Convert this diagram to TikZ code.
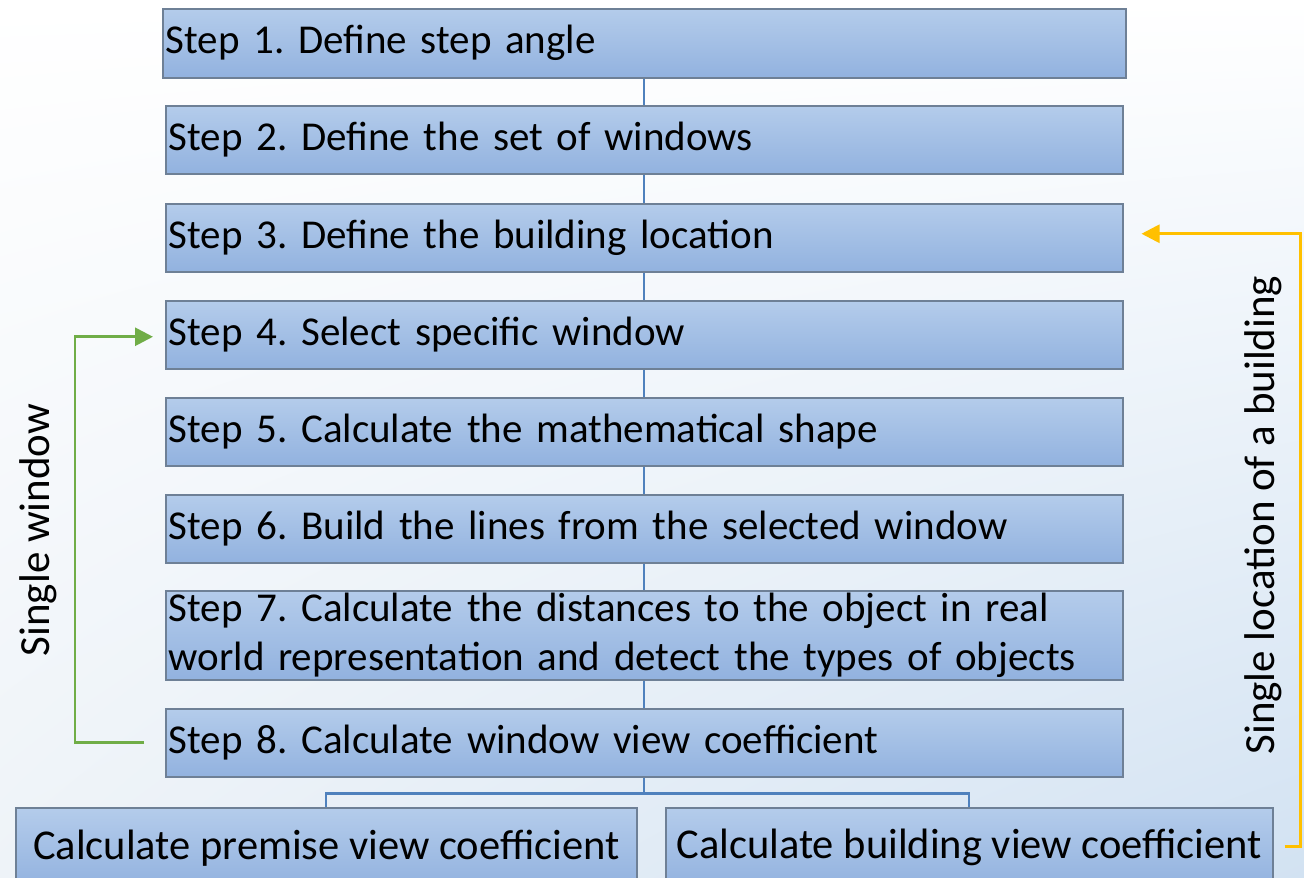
\documentclass[tikz,border=0pt]{standalone}
\usepackage{fontspec}
\setmainfont{Carlito}
\frenchspacing
\usetikzlibrary{arrows.meta,shadings}
\definecolor{boxtop}{HTML}{B4CCEB}
\definecolor{boxbot}{HTML}{92B2DF}
\definecolor{boxedge}{HTML}{6E8096}
\definecolor{conncol}{HTML}{4F81BD}
\definecolor{greencol}{HTML}{70AD47}
\definecolor{orangecol}{HTML}{FFC000}
\definecolor{bgbr}{HTML}{D2E2F2}
\definecolor{bgbl}{HTML}{EEF3F8}
\tikzset{
  stepbox/.style={rectangle, draw=boxedge, line width=1.5pt, top color=boxtop, bottom color=boxbot,
    anchor=north west, inner xsep=3pt, inner ysep=0pt, align=left,
    font=\fontsize{41}{49}\selectfont, minimum height=69pt},
  endbox/.style={rectangle, draw=boxedge, line width=1.5pt, top color=boxtop, bottom color=boxbot,
    anchor=north west, inner sep=0pt, align=center, font=\fontsize{42.5}{49}\selectfont, minimum height=80pt},
  conn/.style={draw=conncol, line width=2.2pt},
  loopg/.style={draw=greencol, line width=2.8pt, -{Triangle[length=18pt,width=18pt]}},
  loopo/.style={draw=orangecol, line width=2.8pt, -{Triangle[length=18pt,width=18pt]}},
  sidelabel/.style={rotate=90, font=\fontsize{43}{49}\selectfont, inner sep=0pt}
}
\begin{document}
\begin{tikzpicture}[x=1pt,y=-1pt]
\useasboundingbox (0,0) rectangle (1304,878);
\shade[lower left=bgbl, lower right=bgbr, upper left=white, upper right=white] (0,0) rectangle (1304,878);

\node[stepbox, text width=957pt, minimum height=69pt] (s1) at (162,8) {Step 1. Define step angle};
\node[stepbox, text width=951pt, minimum height=68pt] (s2) at (165,105) {Step 2. Define the set of windows};
\node[stepbox, text width=951pt, minimum height=68pt] (s3) at (165,203) {Step 3. Define the building location};
\node[stepbox, text width=951pt, minimum height=68pt] (s4) at (165,300) {Step 4. Select specific window};
\node[stepbox, text width=951pt, minimum height=68pt] (s5) at (165,397) {Step 5. Calculate the mathematical shape};
\node[stepbox, text width=951pt, minimum height=68pt] (s6) at (165,494) {Step 6. Build the lines from the selected window};
\node[stepbox, text width=951pt, minimum height=89pt] (s7) at (165,590) {Step 7. Calculate the distances to the object in real\\world representation and detect the types of objects};
\node[stepbox, text width=951pt, minimum height=68pt] (s8) at (165,708) {Step 8. Calculate window view coefficient};

\node[endbox, minimum width=621pt] (b1) at (15,807) {Calculate premise view coefficient};
\node[endbox, minimum width=607pt] (b2) at (665,807) {Calculate building view coefficient};

\draw[conn] (s1.south) -- (s2.north);
\draw[conn] (s2.south) -- (s3.north);
\draw[conn] (s3.south) -- (s4.north);
\draw[conn] (s4.south) -- (s5.north);
\draw[conn] (s5.south) -- (s6.north);
\draw[conn] (s6.south) -- (s7.north);
\draw[conn] (s7.south) -- (s8.north);
\coordinate (split) at ([yshift=-16pt]s8.south);
\draw[conn] (s8.south) -- (split);
\draw[conn] (split) -| (b1.north);
\draw[conn] (split) -| (b2.north);

\coordinate (gs) at ([xshift=-21pt]s8.west);
\coordinate (gc) at ([xshift=-90pt]s8.west);
\draw[loopg] (gs) -- (gc) |- ([xshift=-12pt,yshift=-2pt]s4.west);

\coordinate (os) at ([xshift=11pt,yshift=1pt]b2.east);
\coordinate (oc) at ([xshift=27pt,yshift=1pt]b2.east);
\draw[loopo] (os) -- (oc) |- ([xshift=18pt,yshift=4pt]s3.east);

\node[sidelabel] (lw) at (38,530) {Single window};
\node[sidelabel] (lb) at (1263,515) {Single location of a building};
\end{tikzpicture}
\end{document}
